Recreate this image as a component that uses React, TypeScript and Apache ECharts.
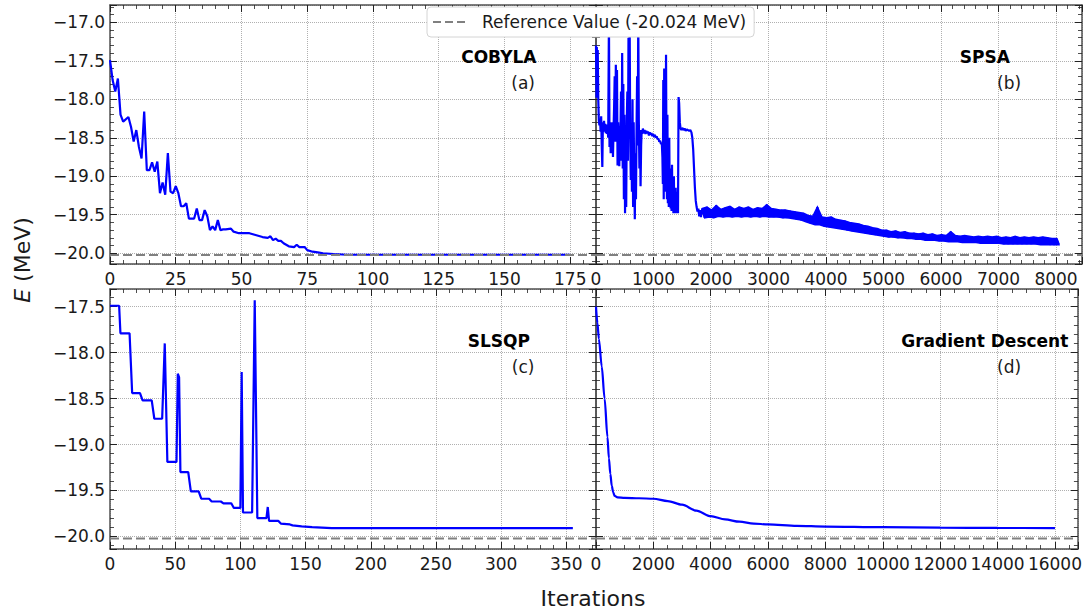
import { useEffect, useRef } from "react";
import * as echarts from "echarts";

const FONT = "DejaVu Sans";
const REF_E = -20.024;
const REF_NAME = "Reference Value (-20.024 MeV)";

// (a) COBYLA energy per iteration
const cobylaIter = [0, 1, 2, 3, 4, 5, 7, 8, 9, 10, 11, 12, 13, 14, 15, 16, 17, 18, 19, 20, 21, 22, 23, 24, 25, 26, 27, 28, 29, 30, 31, 32, 33, 34, 35, 36, 37, 38, 39, 40, 41, 42, 43, 44, 46, 47, 49, 51, 53, 55, 57, 58, 60, 61, 62, 63, 64, 65, 66, 68, 70, 71, 72, 74, 75, 77, 79, 81, 85, 90, 100, 125, 150, 175];
const cobylaE = [-17.49, -17.75, -17.9, -17.73, -18.2, -18.29, -18.23, -18.36, -18.55, -18.4, -18.62, -18.77, -18.16, -18.92, -18.92, -18.82, -18.94, -18.81, -19.22, -19.08, -19.24, -18.7, -19.2, -19.22, -19.13, -19.22, -19.39, -19.39, -19.35, -19.55, -19.55, -19.55, -19.42, -19.57, -19.57, -19.44, -19.52, -19.7, -19.65, -19.7, -19.57, -19.7, -19.69, -19.69, -19.68, -19.72, -19.74, -19.74, -19.74, -19.76, -19.78, -19.79, -19.8, -19.78, -19.83, -19.81, -19.84, -19.84, -19.87, -19.91, -19.92, -19.89, -19.92, -19.92, -19.96, -19.98, -19.99, -20.0, -20.01, -20.02, -20.02, -20.02, -20.02, -20.02];

// (b) SPSA: erratic start
const spsaEarlyIter = [0, 8, 14, 22, 30, 40, 50, 60, 70, 80, 90, 100, 110, 120, 130, 140, 150, 160, 170, 180, 190, 200, 212, 225, 235, 245, 255, 265, 275, 285, 295, 305, 315, 325, 335, 345, 355, 365, 375, 385, 395, 405, 415, 425, 435, 445, 455, 465, 475, 485, 495, 505, 515, 525, 535, 545, 555, 565, 575, 585, 595, 605, 615, 625, 635, 645, 655, 665, 675, 685, 695, 705, 715, 725, 735, 745, 755, 765, 775, 785, 795, 805, 815, 830, 845, 860, 875, 890, 905, 920, 935, 950, 965, 980, 995, 1010, 1025, 1040, 1055, 1070, 1085, 1100, 1115, 1130, 1145, 1155, 1163, 1170, 1178, 1186, 1194, 1202, 1210, 1218, 1226, 1234, 1242, 1250, 1258, 1266, 1274, 1282, 1290, 1298, 1306, 1314, 1322, 1330, 1338, 1346, 1354, 1362, 1370, 1378, 1386, 1394, 1402, 1410, 1418, 1426, 1436, 1446, 1458, 1470, 1485, 1500, 1520, 1540, 1560, 1580, 1600, 1620, 1640, 1660, 1675, 1690, 1705, 1720, 1735, 1750, 1765, 1780, 1795, 1810, 1825, 1840];
const spsaEarlyE = [-17.3, -17.98, -17.32, -17.62, -17.36, -18.02, -18.28, -18.34, -18.25, -18.42, -18.22, -18.6, -18.88, -18.3, -18.42, -18.28, -18.4, -18.32, -18.44, -18.33, -18.45, -18.36, -18.5, -16.95, -18.62, -18.3, -18.7, -18.35, -18.45, -18.3, -18.75, -18.4, -18.1, -17.7, -18.55, -17.55, -18.4, -17.62, -18.86, -18.3, -18.5, -18.87, -18.35, -18.45, -17.9, -18.8, -17.4, -18.9, -17.8, -19.3, -18.2, -19.48, -18.6, -19.4, -18.3, -17.9, -18.8, -17.2, -18.5, -16.95, -18.5, -19.05, -18.4, -19.2, -18.0, -19.4, -18.3, -19.0, -19.56, -18.7, -19.3, -18.4, -17.7, -18.6, -16.95, -18.3, -18.9, -18.4, -19.13, -18.6, -18.4, -18.45, -18.38, -18.44, -18.4, -18.45, -18.41, -18.44, -18.42, -18.47, -18.43, -18.46, -18.44, -18.48, -18.45, -18.49, -18.46, -18.5, -18.48, -18.52, -18.51, -18.55, -18.54, -18.58, -18.57, -18.75, -19.1, -17.75, -19.3, -17.6, -19.2, -17.7, -19.0, -17.42, -18.8, -19.3, -18.2, -19.35, -18.7, -19.4, -18.5, -19.25, -18.9, -19.42, -19.0, -19.45, -18.85, -19.45, -19.1, -19.48, -19.0, -19.48, -19.3, -19.46, -19.15, -19.48, -19.2, -19.47, -19.3, -19.48, -17.97, -18.05, -18.3, -18.38, -18.4, -18.37, -18.4, -18.38, -18.41, -18.39, -18.4, -18.41, -18.4, -18.43, -18.5, -18.65, -18.9, -19.15, -19.32, -19.4, -19.46, -19.42, -19.52, -19.44, -19.53, -19.45];

// (b) SPSA: noisy band, alternating upper / lower readings every 40 iterations
const SPSA_BAND_START = 1850;
const SPSA_BAND_STEP = 40;
const spsaBandE = [
  -19.42, -19.54, -19.4, -19.53, -19.44, -19.54, -19.38, -19.52, -19.43, -19.53,
  -19.41, -19.52, -19.39, -19.53, -19.43, -19.52, -19.4, -19.53, -19.42, -19.52,
  -19.4, -19.53, -19.43, -19.52, -19.41, -19.53, -19.42, -19.52, -19.37, -19.53,
  -19.42, -19.53, -19.43, -19.53, -19.44, -19.54, -19.44, -19.54, -19.45, -19.55,
  -19.46, -19.56, -19.47, -19.57, -19.48, -19.59, -19.51, -19.61, -19.52, -19.63,
  -19.4, -19.63, -19.53, -19.65, -19.54, -19.66, -19.53, -19.67, -19.56, -19.68,
  -19.57, -19.69, -19.58, -19.7, -19.6, -19.71, -19.61, -19.72, -19.62, -19.73,
  -19.64, -19.74, -19.65, -19.75, -19.67, -19.76, -19.68, -19.77, -19.7, -19.78,
  -19.7, -19.79, -19.72, -19.79, -19.71, -19.8, -19.73, -19.8, -19.72, -19.81,
  -19.74, -19.81, -19.74, -19.82, -19.75, -19.82, -19.74, -19.83, -19.76, -19.83,
  -19.75, -19.83, -19.77, -19.84, -19.76, -19.84, -19.77, -19.85, -19.72, -19.85,
  -19.77, -19.85, -19.78, -19.86, -19.77, -19.86, -19.78, -19.86, -19.79, -19.86,
  -19.78, -19.87, -19.79, -19.87, -19.78, -19.87, -19.79, -19.87, -19.78, -19.87,
  -19.8, -19.88, -19.79, -19.88, -19.8, -19.88, -19.78, -19.88, -19.8, -19.88,
  -19.79, -19.88, -19.8, -19.88, -19.79, -19.88, -19.8, -19.89, -19.79, -19.89,
  -19.8, -19.89, -19.81, -19.89, -19.81, -19.89,
];

// (c) SLSQP
const slsqpIter = [0, 7, 8, 15, 17, 23, 25, 32, 34, 40, 42, 44, 51, 52, 53, 54, 60, 62, 68, 70, 76, 78, 85, 87, 93, 95, 100, 101, 102, 109, 111, 113, 120, 121, 122, 129, 131, 138, 140, 147, 155, 170, 200, 355];
const slsqpE = [-17.49, -17.49, -17.79, -17.79, -18.44, -18.44, -18.52, -18.52, -18.72, -18.72, -17.9, -19.19, -19.19, -18.23, -18.27, -19.3, -19.3, -19.51, -19.51, -19.59, -19.59, -19.62, -19.62, -19.64, -19.64, -19.69, -19.69, -18.21, -19.74, -19.74, -17.43, -19.8, -19.8, -19.68, -19.83, -19.83, -19.86, -19.87, -19.88, -19.89, -19.9, -19.91, -19.91, -19.91];

// (d) Gradient descent
const gdIter = [0, 50, 100, 200, 300, 400, 450, 500, 550, 600, 650, 750, 1000, 1500, 2000, 2500, 3000, 3500, 4000, 4500, 5000, 5500, 6000, 7000, 8000, 10000, 12000, 14000, 16000];
const gdE = [-17.5, -17.68, -17.85, -18.15, -18.5, -18.92, -19.15, -19.32, -19.45, -19.52, -19.56, -19.575, -19.58, -19.585, -19.59, -19.615, -19.655, -19.72, -19.78, -19.815, -19.84, -19.86, -19.87, -19.885, -19.893, -19.9, -19.905, -19.908, -19.91];

const zip = (xs: number[], ys: number[]) => xs.map((x, i) => [x, ys[i]]);

const BLUE = "#0000ff";
const FRAME = "#505050";
const TICK = "#222222";
const TEXT = "#1a1a1a";

type Panel = {
  name: string;
  tag: string;
  data: number[][];
  xmax: number;
  xStep: number;
  xMinor: number;
  ymin: number;
  ymax: number;
  yLabels: boolean;
  smooth?: boolean;
  box: { left: number; top: number; width: number; height: number };
};

const onStep = (v: number, step: number) => Math.abs(v / step - Math.round(v / step)) < 1e-6;

export default function App() {
  const ref = useRef<HTMLDivElement>(null);

  useEffect(() => {
    if (!ref.current) return;
    const chart = echarts.init(ref.current, undefined, { renderer: "svg" });

    const spsaBand = spsaBandE.map((e, k) => [SPSA_BAND_START + k * SPSA_BAND_STEP, e]);
    // outline of the noisy band: upper readings left to right, lower readings back
    const bandUpper = spsaBand.filter((_, k) => k % 2 === 0);
    const bandLower = spsaBand.filter((_, k) => k % 2 === 1);
    const bandOutline = [...bandUpper, ...bandLower.slice().reverse()];

    const panels: Panel[] = [
      {
        name: "COBYLA", tag: "(a)", data: zip(cobylaIter, cobylaE),
        xmax: 184.8, xStep: 25, xMinor: 5, ymin: -20.14, ymax: -16.775, yLabels: true,
        box: { left: 110, top: 5, width: 486, height: 259 },
      },
      {
        name: "SPSA", tag: "(b)", data: [...zip(spsaEarlyIter, spsaEarlyE), ...spsaBand],
        xmax: 8452, xStep: 1000, xMinor: 5, ymin: -20.14, ymax: -16.775, yLabels: false,
        box: { left: 596, top: 5, width: 486, height: 259 },
      },
      {
        name: "SLSQP", tag: "(c)", data: zip(slsqpIter, slsqpE),
        xmax: 372.75, xStep: 50, xMinor: 5, ymin: -20.137, ymax: -17.308, yLabels: true,
        box: { left: 110, top: 289, width: 486, height: 260 },
      },
      {
        name: "Gradient Descent", tag: "(d)", data: zip(gdIter, gdE),
        xmax: 16800, xStep: 2000, xMinor: 4, ymin: -20.137, ymax: -17.308, yLabels: false, smooth: true,
        box: { left: 596, top: 289, width: 486, height: 260 },
      },
    ];

    const axisLine = { show: true, onZero: false, lineStyle: { color: FRAME, width: 1.5 } };
    const axisTick = { show: true, inside: true, length: 7, lineStyle: { color: TICK, width: 1 } };
    const gridLine = { show: true, lineStyle: { type: "dotted", color: "#b0b0b0", width: 1 } };
    const labelStyle = { fontSize: 17, fontFamily: FONT, color: TEXT };

    const grids: any[] = [];
    const xAxes: any[] = [];
    const yAxes: any[] = [];
    const series: any[] = [];
    const graphic: any[] = [];

    panels.forEach((p, i) => {
      grids.push({ ...p.box, containLabel: false });
      const xBase = {
        type: "value", gridIndex: i, min: 0, max: p.xmax,
        minInterval: p.xStep, maxInterval: p.xStep, splitNumber: Math.round(p.xmax / p.xStep),
        axisLine, axisTick,
        minorTick: { show: true, splitNumber: p.xMinor, length: 4, lineStyle: { color: TICK, width: 0.8 } },
      };
      xAxes.push({
        ...xBase, position: "bottom",
        axisLabel: {
          show: true, margin: 6, ...labelStyle,
          formatter: (v: number) => (onStep(v, p.xStep) ? String(Math.round(v)) : ""),
        },
        splitLine: gridLine,
      });
      xAxes.push({ ...xBase, position: "top", axisLabel: { show: false }, splitLine: { show: false } });

      const yBase = {
        type: "value", gridIndex: i, min: p.ymin, max: p.ymax,
        minInterval: 0.5, maxInterval: 0.5, splitNumber: 6,
        axisLine, axisTick,
        minorTick: { show: true, splitNumber: 5, length: 4, lineStyle: { color: TICK, width: 0.8 } },
      };
      yAxes.push({
        ...yBase, position: "left",
        axisLabel: {
          show: p.yLabels, margin: 5, ...labelStyle,
          formatter: (v: number) =>
            onStep(v, 0.5) ? (v < 0 ? "\u2212" : "") + Math.abs(v).toFixed(1) : "",
        },
        splitLine: gridLine,
      });
      yAxes.push({ ...yBase, position: "right", axisLabel: { show: false }, splitLine: { show: false } });

      if (p.name === "SPSA") {
        series.push({
          type: "custom", xAxisIndex: 2 * i, yAxisIndex: 2 * i, data: [0], silent: true, z: 3,
          renderItem: (_params: any, api: any) => ({
            type: "polygon",
            shape: { points: bandOutline.map((pt) => api.coord(pt)) },
            style: { fill: BLUE, stroke: BLUE, lineWidth: 1.5, lineJoin: "miter" },
          }),
        });
      }

      series.push({
        type: "line", xAxisIndex: 2 * i, yAxisIndex: 2 * i, data: p.data,
        symbol: "none", showSymbol: false, silent: true, z: 3,
        smooth: p.smooth ? 0.3 : false, smoothMonotone: p.smooth ? "x" : undefined,
        lineStyle: { color: BLUE, width: 2.2 }, itemStyle: { color: BLUE },
      });
      series.push({
        type: "line", name: REF_NAME, xAxisIndex: 2 * i, yAxisIndex: 2 * i,
        data: [[0, REF_E], [p.xmax, REF_E]],
        symbol: "none", showSymbol: false, silent: true, z: 4,
        lineStyle: { color: "#808080", width: 2, type: [9, 4] }, itemStyle: { color: "#808080" },
      });

      const { left, top, width, height } = p.box;
      graphic.push({
        type: "text", x: left + 0.8 * width, y: top + 0.2 * height, z: 10,
        style: { text: p.name, fontSize: 17, fontWeight: "bold", fontFamily: FONT, fill: "#000", align: "center", verticalAlign: "middle" },
      });
      graphic.push({
        type: "text", x: left + 0.85 * width, y: top + 0.3 * height, z: 10,
        style: { text: p.tag, fontSize: 17, fontFamily: FONT, fill: TEXT, align: "center", verticalAlign: "middle" },
      });
    });

    graphic.push({
      type: "text", x: 22, y: 260, rotation: Math.PI / 2, z: 10,
      style: {
        text: "{i|E} (MeV)", fontSize: 22, fontFamily: FONT, fill: TEXT, align: "center", verticalAlign: "middle",
        rich: { i: { fontStyle: "italic", fontSize: 22, fontFamily: FONT, fill: TEXT } },
      },
    });
    graphic.push({
      type: "text", x: 593, y: 598, z: 10,
      style: { text: "Iterations", fontSize: 22, fontFamily: FONT, fill: TEXT, align: "center", verticalAlign: "middle" },
    });

    chart.setOption({
      animation: false,
      backgroundColor: "#ffffff",
      textStyle: { fontFamily: FONT },
      grid: grids,
      xAxis: xAxes,
      yAxis: yAxes,
      series,
      graphic,
      legend: {
        data: [
          {
            name: REF_NAME,
            icon: "path://M0 0h8v2h-8z M12 0h8v2h-8z M24 0h8v2h-8z",
            itemStyle: { color: "#808080" },
          },
        ],
        left: 427, top: 7, padding: [6, 8, 6, 6],
        itemWidth: 32, itemHeight: 2.2, selectedMode: false, z: 20,
        backgroundColor: "#ffffff", borderColor: "#d4d4d4", borderWidth: 1, borderRadius: 4,
        textStyle: { fontSize: 17, fontFamily: FONT, color: TEXT, padding: [0, 0, 0, 12], lineHeight: 18 },
      },
    });

    return () => chart.dispose();
  }, []);

  return (
    <div
      ref={ref}
      style={{ position: "absolute", left: 0, top: 0, width: 1085, height: 611, background: "#fff" }}
    />
  );
}
